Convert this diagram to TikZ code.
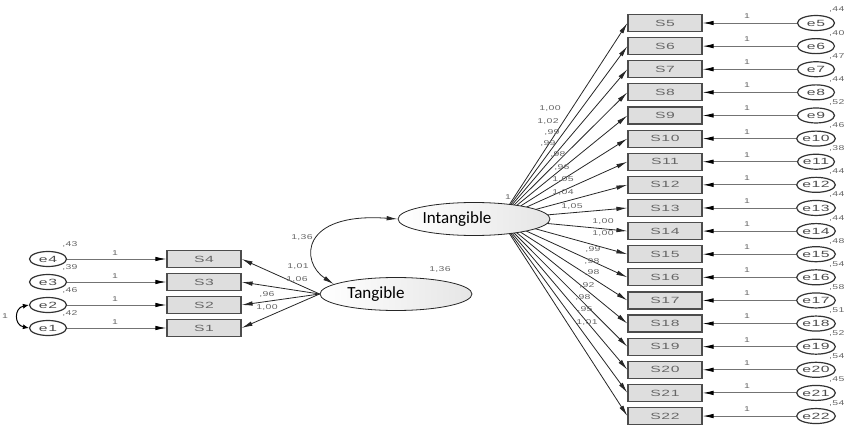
\documentclass[tikz,border=0pt]{standalone}
\usepackage{fontspec}
\setsansfont{Liberation Sans}
\newfontfamily\latfont{Carlito}
\newfontfamily\boxfont[FakeStretch=1.75,LetterSpace=6]{Liberation Sans}
\newfontfamily\numfont[FakeStretch=1.5,LetterSpace=4]{Liberation Sans}
\usepackage{tikz}
\usetikzlibrary{calc,shapes.geometric,arrows.meta}

\tikzset{
  obs/.style={draw=black!70,line width=1.2pt,fill=black!13,minimum width=74pt,minimum height=17pt,inner sep=0pt,
    font=\boxfont\fontsize{9}{9}\selectfont,text=black!60},
  err/.style={ellipse,draw=black!80,line width=1.2pt,fill=white,minimum width=37pt,minimum height=15pt,inner sep=0pt,
    font=\boxfont\fontsize{9}{9}\selectfont,text=black!70},
  lat/.style={ellipse,draw=black!85,line width=0.8pt,left color=white,middle color=white,right color=black!10,
    minimum width=152pt,minimum height=33pt,inner sep=0pt,font=\latfont\fontsize{17}{18}\selectfont},
  pth/.style={-{Latex[length=11pt,width=4.5pt]},line width=0.8pt,black!85},
  epth/.style={-{Latex[length=11pt,width=4.5pt,black]},line width=0.9pt,black!55},
  num/.style={font=\numfont\fontsize{7}{7}\selectfont,text=black!60,inner sep=0pt},
}

\begin{document}
\begin{tikzpicture}[x=1pt,y=-1pt]
  \useasboundingbox (0,0) rectangle (844,428);
  % tangible side
  \node[lat] (tan) at (396,294) {\makebox[0pt]{Tangible\hspace{40pt}}};
  \foreach \i/\yy/\v in {4/259/43,3/282/39,2/305/46,1/328/42}{
    \node[obs] (S\i) at (204,\yy) {S\i};
    \node[err] (e\i) at (48,\yy) {e\i};
    \draw[epth] (e\i) -- (S\i);
    \node[num] at (115,\yy-6) {1};
    \node[num] at (70,\yy-14) {,\v};
    \draw[pth] (tan.west) -- (S\i.east);
  }
  \draw[{Latex[length=6pt,width=5pt]}-{Latex[length=6pt,width=5pt]},line width=1pt]
    (e2.west) .. controls (14,308) and (14,325) .. (e1.west);
  \node[num] at (5,316) {1};
  % intangible side
  \coordinate (ihub) at (500,219);
  \foreach \i/\v [count=\k from 0] in {5/44,6/40,7/47,8/44,9/52,10/46,11/38,12/44,13/44,
      14/44,15/48,16/54,17/58,18/51,19/52,20/54,21/45,22/54}{
    \pgfmathsetmacro\yy{23+23.12*\k}
    \node[obs] (S\i) at (665,\yy) {S\i};
    \node[err] (e\i) at (816,\yy) {e\i};
    \draw[epth] (e\i) -- (S\i);
    \node[num] at (747,\yy-7) {1};
    \node[num,anchor=west] at (829,\yy-13) {,\v};
    \draw[pth] (ihub) -- (S\i.west);
  }
  \node[lat] (int) at (474,219) {\makebox[0pt]{Intangible\hspace{34pt}}};
  % loadings
  \foreach \p/\t in {{550,109}/{1,00},{548,122}/{1,02},{552,133}/{,99},{548,144}/{,99},{558,155}/{,98},
      {562,168}/{,96},{563,180}/{1,05},{563,193}/{1,04},{572,207}/{1,05},
      {603,222}/{1,00},{603,234}/{1,00},{593,250}/{,99},{592,262}/{,98},{592,273}/{,98},
      {587,286}/{,92},{583,298}/{,98},{585,310}/{,95},{587,323}/{1,01},
      {298,267}/{1,01},{297,280}/{1,06},{267,295}/{,96},{267,308}/{1,00}}{
    \node[num] at (\p) {\t};
  }
  % covariance and variances
  \draw[{Latex[length=11pt,width=4.5pt]}-{Latex[length=11pt,width=4.5pt]},line width=0.8pt,black!85]
    (tan.171) .. controls (300,262) and (300,212) .. (int.west);
  \node[num] at (302,238) {1,36};
  \node[num] at (440,270) {1,36};
  \node[num] at (508,197) {1};
\end{tikzpicture}
\end{document}
